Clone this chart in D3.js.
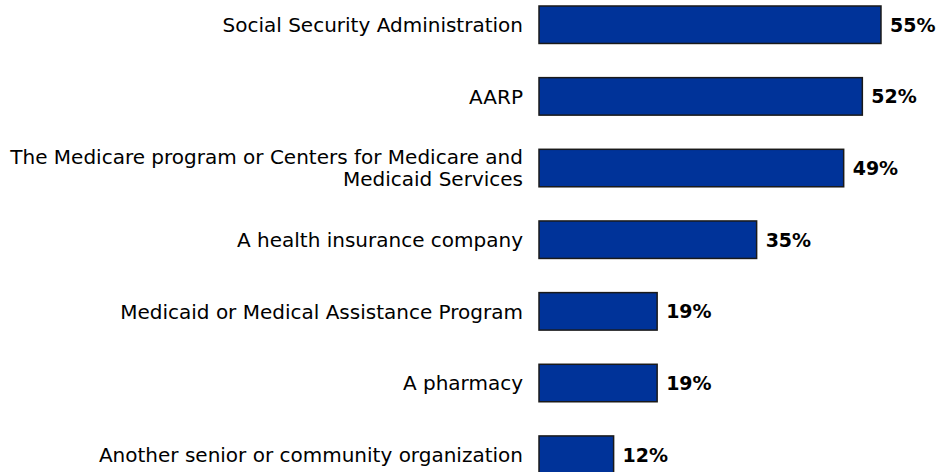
<!DOCTYPE html>
<html>
<head>
<meta charset="utf-8">
<script src="https://cdn.jsdelivr.net/npm/d3@7"></script>
<style>
	body {margin: 0; background: #fff;}
	svg text {font-family: "DejaVu Sans", Verdana, sans-serif;}
</style>
</head>
<body>
<script>
//chart values
var categories = [
	["Social Security Administration"],
	["AARP"],
	["The Medicare program or Centers for Medicare and", "Medicaid Services"],
	["A health insurance company"],
	["Medicaid or Medical Assistance Program"],
	["A pharmacy"],
	["Another senior or community organization"]
];
var values = [55, 52, 49, 35, 19, 19, 12];

var width = 939,
	height = 472,
	barLeft = 539,
	barFill = "#003399",
	barStroke = "#1a1a1a",
	labelSize = 20,
	valueSize = 19;

var svg = d3.select("body").append("svg")
	.attr("width", width)
	.attr("height", height);

var xScale = d3.scaleLinear().domain([0, 100]).range([barLeft, barLeft + 621.8]);

var yScale = d3.scaleBand()
	.domain(d3.range(values.length))
	.range([-11.1, 490.5])
	.paddingInner(0.477)
	.paddingOuter(0.2385);

//bars
svg.append("g").selectAll("rect")
	.data(values).enter()
		.append("rect")
		.attr("x", xScale(0))
		.attr("y", function(d, i) {return yScale(i);})
		.attr("width", function(d) {return xScale(d) - xScale(0);})
		.attr("height", yScale.bandwidth())
		.style("fill", barFill)
		.style("stroke", barStroke)
		.style("stroke-width", 1.5);

//value labels
svg.append("g").selectAll("text")
	.data(values).enter()
		.append("text")
		.attr("x", function(d) {return xScale(d) + 9;})
		.attr("y", function(d, i) {return yScale(i) + yScale.bandwidth()/2;})
		.attr("dy", "0.36em")
		.style("font-size", valueSize + "px")
		.style("font-weight", "bold")
		.style("fill", "#000")
		.text(function(d) {return d + "%";});

//category labels (some wrap on two lines)
var lineH = 22;
var labels = svg.append("g").selectAll("text")
	.data(categories).enter()
		.append("text")
		.attr("text-anchor", "end")
		.attr("y", function(d, i) {return yScale(i) + yScale.bandwidth()/2;})
		.style("font-size", labelSize + "px")
		.style("fill", "#000");

labels.selectAll("tspan")
	.data(function(d) {return d;}).enter()
		.append("tspan")
		.attr("x", barLeft - 16)
		.attr("dy", function(d, j, nodes) {
			var n = nodes.length;
			return j == 0 ? (0.36 * labelSize - (n - 1) * lineH / 2) + "px" : lineH + "px";
		})
		.text(function(d) {return d;});
</script>
</body>
</html>
